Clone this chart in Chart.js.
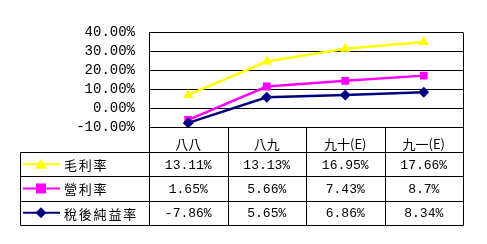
<!DOCTYPE html>
<html><head><meta charset="utf-8">
<script src="https://cdn.jsdelivr.net/npm/chart.js@4"></script>
<style>html,body{margin:0;padding:0;background:#fff}#wrap{width:487px;height:244px}</style>
</head><body><div id="wrap"><canvas id="c" width="487" height="244"></canvas></div>
<script>
const categories = ['八八', '八九', '九十(E)', '九一(E)'];
const seriesNames = ['毛利率', '營利率', '稅後純益率'];
const grossMargin = [13.11, 13.13, 16.95, 17.66];
const operatingMargin = [1.65, 5.66, 7.43, 8.7];
const netMargin = [-7.86, 5.65, 6.86, 8.34];
const yTicks = [-10, 0, 10, 20, 30, 40];

const seriesColors = ['#FFFF00', '#FF00FF', '#000080'];
const seriesMarkers = ['triangle', 'rect', 'rectRot'];
const seriesValues = [grossMargin, operatingMargin, netMargin];

function drawMarker(c, style, x, y, color) {
  c.save();
  c.fillStyle = color;
  c.beginPath();
  if (style === 'triangle') {
    c.moveTo(x, y - 5.5); c.lineTo(x + 6, y + 4.5); c.lineTo(x - 6, y + 4.5);
  } else if (style === 'rect') {
    c.rect(x - 5, y - 5, 10, 10);
  } else {
    c.moveTo(x, y - 5.5); c.lineTo(x + 5.5, y); c.lineTo(x, y + 5.5); c.lineTo(x - 5.5, y);
  }
  c.closePath();
  c.fill();
  c.restore();
}

const tablePlugin = {
  id: 'dataTable',
  afterDraw(chart) {
    const c = chart.ctx, a = chart.chartArea, xs = chart.scales.x;
    const px = v => Math.round(v) + 0.5;
    const tableLeft = 20;
    const catTop = a.bottom, catBot = xs.bottom;
    const rowH = 24.3;
    const rows = [catBot, catBot + rowH, catBot + 2 * rowH, catBot + 3 * rowH];
    const last = rows[3];
    const bounds = [a.left];
    for (let i = 1; i < categories.length; i++) bounds.push((xs.getPixelForValue(i - 1) + xs.getPixelForValue(i)) / 2);
    bounds.push(a.right);
    c.save();
    c.strokeStyle = '#000';
    c.lineWidth = 1;
    c.beginPath();
    c.moveTo(px(a.right), px(a.top)); c.lineTo(px(a.right), px(last));
    c.moveTo(px(a.left), px(a.top)); c.lineTo(px(a.left), px(last));
    for (let i = 1; i < bounds.length - 1; i++) { c.moveTo(px(bounds[i]), px(catTop)); c.lineTo(px(bounds[i]), px(last)); }
    c.moveTo(px(tableLeft), px(catBot)); c.lineTo(px(tableLeft), px(last));
    for (const r of rows) { c.moveTo(px(tableLeft), px(r)); c.lineTo(px(a.right), px(r)); }
    c.moveTo(px(a.left), px(catTop)); c.lineTo(px(a.right), px(catTop));
    c.stroke();

    for (let s = 0; s < 3; s++) {
      const yc = (rows[s] + rows[s + 1]) / 2;
      c.strokeStyle = seriesColors[s];
      c.lineWidth = 2;
      c.beginPath(); c.moveTo(23, yc); c.lineTo(60, yc); c.stroke();
      drawMarker(c, seriesMarkers[s], 41, yc, seriesColors[s]);
      c.fillStyle = '#000';
      c.font = '13px "Noto Sans CJK TC"';
      c.textAlign = 'left'; c.textBaseline = 'middle';
      const chars = Array.from(seriesNames[s]);
      chars.forEach((ch, i) => c.fillText(ch, 64 + i * 14.8, yc + 1));
      c.font = '13px "Liberation Mono"';
      c.textAlign = 'center';
      seriesValues[s].forEach((v, i) => c.fillText(v + '%', xs.getPixelForValue(i), yc + 1));
    }
    c.restore();
  }
};

new Chart(document.getElementById('c'), {
  type: 'line',
  data: {
    labels: categories,
    datasets: [2, 1, 0].map(s => ({
      label: seriesNames[s],
      data: seriesValues[s],
      borderColor: seriesColors[s],
      backgroundColor: seriesColors[s],
      pointStyle: seriesMarkers[s],
      pointRadius: s === 0 ? 6 : 5.5,
      pointBorderWidth: 0,
      borderWidth: 2.5,
      fill: false,
      tension: 0
    }))
  },
  options: {
    responsive: false,
    animation: false,
    events: [],
    layout: { padding: { left: 0, right: 24, top: 32, bottom: 92 } },
    plugins: { legend: { display: false }, tooltip: { enabled: false } },
    scales: {
      x: {
        offset: true,
        grid: { display: false },
        border: { display: false },
        ticks: { color: '#000', font: { family: '"Noto Sans CJK TC"', size: 13 }, padding: 1, maxRotation: 0, autoSkip: false },
        afterFit(s) { s.height = 25; }
      },
      y: {
        stacked: 'single',
        min: -10, max: 40,
        afterBuildTicks(s) { s.ticks = yTicks.map(v => ({ value: v })); },
        ticks: { color: '#000', font: { family: '"Liberation Mono"', size: 14 }, padding: 14, autoSkip: false, callback: v => v.toFixed(2) + '%' },
        grid: { color: '#000', lineWidth: 1, drawTicks: false },
        border: { color: '#000', width: 1 },
        afterFit(s) { s.width = 149; }
      }
    }
  },
  plugins: [tablePlugin]
});
</script></body></html>
